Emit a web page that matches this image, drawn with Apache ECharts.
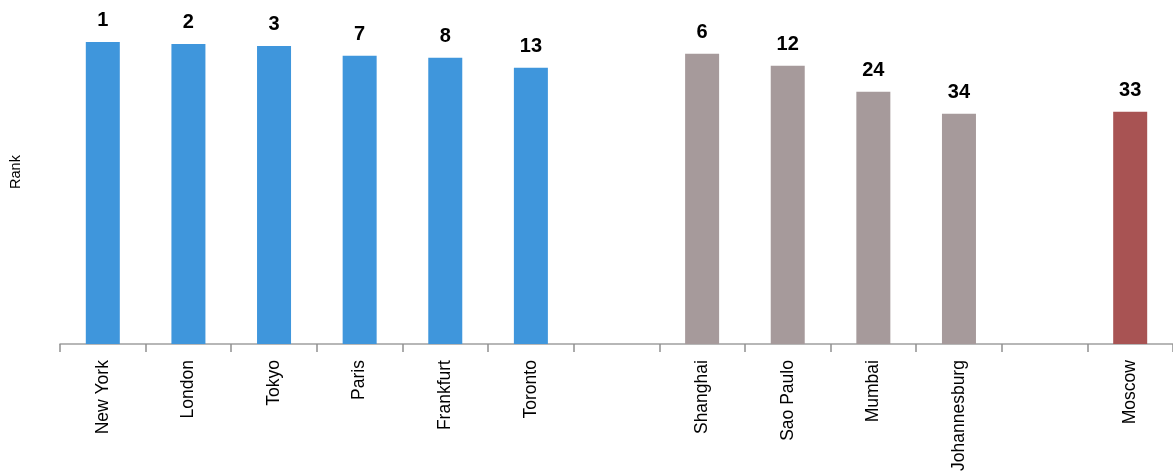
<!DOCTYPE html>
<html>
<head>
<meta charset="utf-8">
<script src="https://cdn.jsdelivr.net/npm/echarts@6/dist/echarts.min.js"></script>
<style>
html,body{margin:0;padding:0;background:#fff;}
#chart{width:1173px;height:474px;}
</style>
</head>
<body>
<div id="chart"></div>
<script>
// Categories (blank entries are the gaps between city groups)
var categories = ['New York','London','Tokyo','Paris','Frankfurt','Toronto','','Shanghai','Sao Paulo','Mumbai','Johannesburg','','Moscow'];
// Bar heights (score)
var scores = [303, 301, 299, 289, 287, 277, null, 291, 279, 253, 231, null, 233];
// Rank labels shown above bars
var ranks = [1, 2, 3, 7, 8, 13, null, 6, 12, 24, 34, null, 33];
// Group of each category: developed / emerging / Russia
var groups = ['dev','dev','dev','dev','dev','dev','','em','em','em','em','','ru'];
var groupColors = {dev:'#3f96dc', em:'#a69a9b', ru:'#a85353'};

var data = scores.map(function(v,i){
  return {value: v, rank: ranks[i], itemStyle:{color: groupColors[groups[i]] || '#ccc'}};
});

var chart = echarts.init(document.getElementById('chart'));
chart.setOption({
  backgroundColor:'#fff',
  animation:false,
  grid:{left:60, right:-3, top:0, bottom:129},
  xAxis:{
    type:'category',
    data:categories,
    axisLine:{lineStyle:{color:'#a0a0a0', width:1.5}},
    axisTick:{show:true, length:8, lineStyle:{color:'#909090', width:1.5}},
    axisLabel:{rotate:90, color:'#000', fontSize:17.5, fontFamily:'Liberation Sans, Arial, sans-serif', margin:16, interval:0}
  },
  yAxis:{
    type:'value', min:0, max:345,
    axisLine:{show:false}, axisTick:{show:false}, axisLabel:{show:false}, splitLine:{show:false},
    name:'Rank', nameLocation:'middle', nameRotate:90, nameGap:37,
    nameTextStyle:{color:'#000', fontSize:14.5, fontFamily:'Liberation Sans, Arial, sans-serif'}
  },
  series:[{
    type:'bar',
    data:data,
    barWidth:34,
    label:{
      show:true, position:'top', distance:11,
      fontSize:20, fontWeight:'bold', color:'#000',
      fontFamily:'Liberation Sans Narrow, Liberation Sans, Arial, sans-serif',
      formatter:function(p){ return p.data.rank==null ? '' : String(p.data.rank); }
    }
  }]
});
</script>
</body>
</html>
